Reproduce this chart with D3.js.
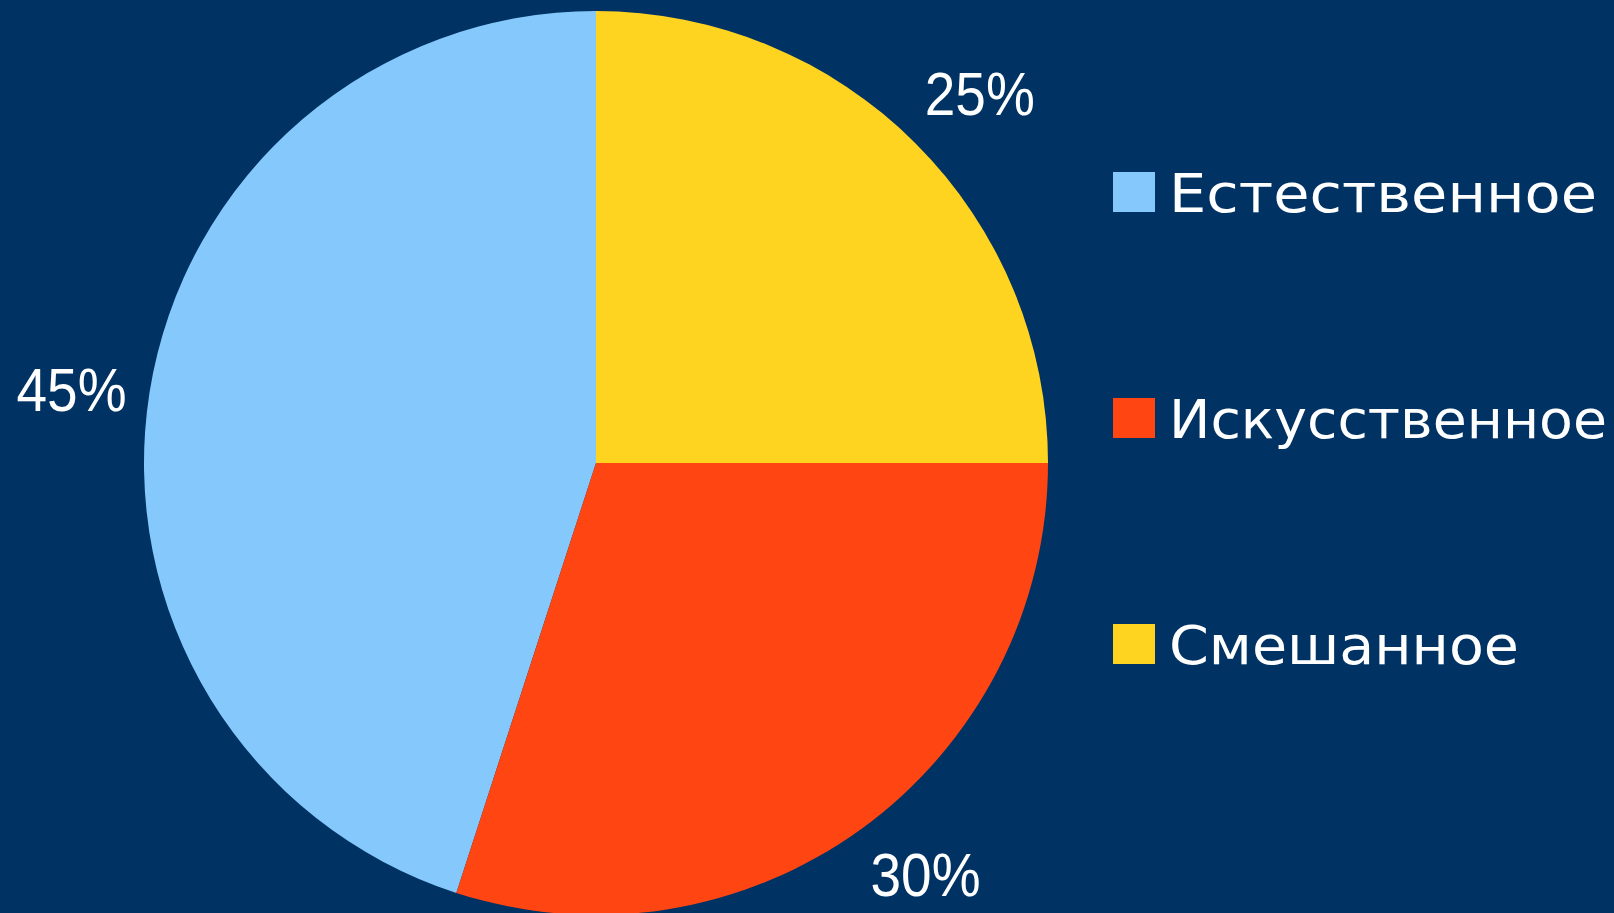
<!DOCTYPE html>
<html lang="ru">
<head>
<meta charset="UTF-8">
<script src="https://d3js.org/d3.v7.min.js"></script>
<title>Pie</title>
<style>
  body { margin: 0; background: #003263; overflow: hidden; }
</style>
</head>
<body>
<div id="chart"></div>
<script>
  var width = 1614;
  var height = 913;

  // data
  var categories = ["Естественное", "Искусственное", "Смешанное"];
  var values = [45, 30, 25];
  var labels = ["45%", "30%", "25%"];
  var colors = ["#85C9FC", "#FF4612", "#FFD421"];

  var svg = d3.select("#chart")
    .append("svg").attr("width", width)
    .attr("height", height);

  svg.append("rect").attr("width", width).attr("height", height).attr("fill", "#003263");

  var radius = 452;
  var g = svg.append("g").attr("transform", "translate(596,463)");

  // first slice goes counter-clockwise from 12 o'clock
  var pie = d3.pie().sort(null).startAngle(0).endAngle(-2 * Math.PI);
  var arcs = pie(values);

  var arc = d3.arc().innerRadius(0).outerRadius(radius);
  var labelArc = d3.arc().innerRadius(530).outerRadius(530);
  // small nudges so the labels sit like the original (outside end)
  var nudge = [[-1, 9], [18, -18], [9, 4]];

  g.selectAll("path.slice").data(arcs).enter().append("path")
    .attr("class", "slice")
    .attr("d", arc)
    .attr("fill", function(d, i) { return colors[i]; });

  g.selectAll("text.pct").data(arcs).enter().append("text")
    .attr("class", "pct")
    .attr("transform", function(d, i) {
      var c = labelArc.centroid(d);
      return "translate(" + (c[0] + nudge[i][0]) + "," + (c[1] + nudge[i][1]) + ")";
    })
    .attr("text-anchor", "middle")
    .attr("dy", "0.36em")
    .attr("font-family", "Liberation Sans, Arial, sans-serif")
    .attr("font-size", 62)
    .attr("fill", "#ffffff")
    .attr("textLength", 110)
    .attr("lengthAdjust", "spacingAndGlyphs")
    .text(function(d, i) { return labels[i]; });

  // legend
  var legendY = d3.scalePoint().domain(categories).range([172, 624]);
  var legendWidths = [428, 438, 350];

  var legend = svg.selectAll("g.legend").data(categories).enter().append("g")
    .attr("class", "legend")
    .attr("transform", function(d) { return "translate(1113," + legendY(d) + ")"; });

  legend.append("rect")
    .attr("width", 42).attr("height", 40)
    .attr("fill", function(d, i) { return colors[i]; });

  legend.append("text")
    .attr("x", 56).attr("y", 40)
    .attr("font-family", "DejaVu Sans, sans-serif")
    .attr("font-size", 54)
    .attr("fill", "#ffffff")
    .attr("textLength", function(d, i) { return legendWidths[i]; })
    .attr("lengthAdjust", "spacingAndGlyphs")
    .text(function(d) { return d; });
</script>
</body>
</html>
